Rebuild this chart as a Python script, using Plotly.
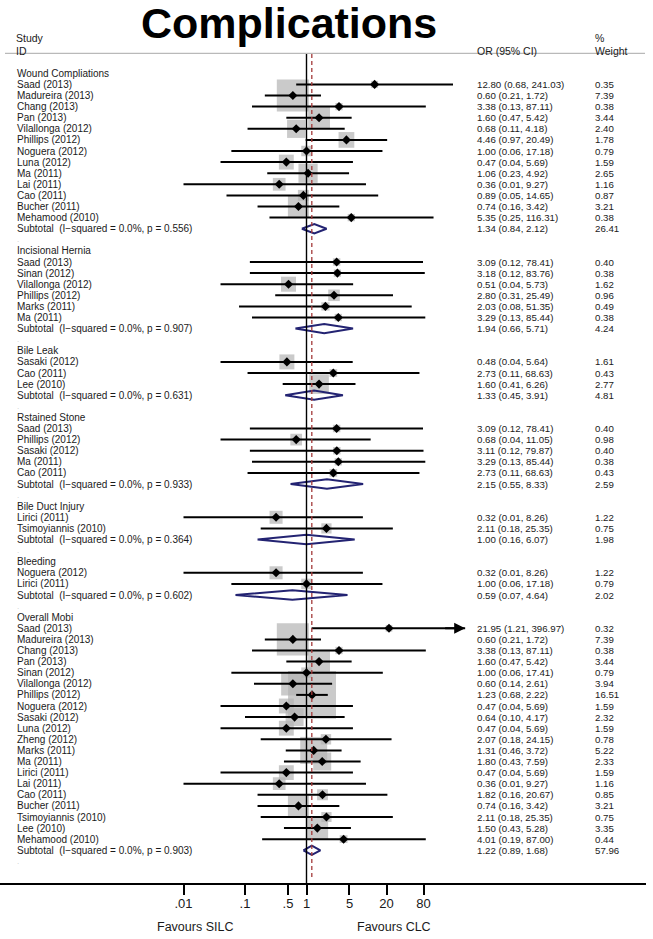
import math
import plotly.graph_objects as go

# ---------------- data ----------------
wound_study = ["Saad (2013)", "Madureira (2013)", "Chang (2013)", "Pan (2013)", "Vilallonga (2012)",
               "Phillips (2012)", "Noguera (2012)", "Luna (2012)", "Ma (2011)", "Lai (2011)",
               "Cao (2011)", "Bucher (2011)", "Mehamood (2010)"]
wound_or = [12.80, 0.60, 3.38, 1.60, 0.68, 4.46, 1.00, 0.47, 1.06, 0.36, 0.89, 0.74, 5.35]
wound_lo = [0.68, 0.21, 0.13, 0.47, 0.11, 0.97, 0.06, 0.04, 0.23, 0.01, 0.05, 0.16, 0.25]
wound_hi = [241.03, 1.72, 87.11, 5.42, 4.18, 20.49, 17.18, 5.69, 4.92, 9.27, 14.65, 3.42, 116.31]
wound_wt = [0.35, 7.39, 0.38, 3.44, 2.40, 1.78, 0.79, 1.59, 2.65, 1.16, 0.87, 3.21, 0.38]

hernia_study = ["Saad (2013)", "Sinan (2012)", "Vilallonga (2012)", "Phillips (2012)", "Marks (2011)", "Ma (2011)"]
hernia_or = [3.09, 3.18, 0.51, 2.80, 2.03, 3.29]
hernia_lo = [0.12, 0.12, 0.04, 0.31, 0.08, 0.13]
hernia_hi = [78.41, 83.76, 5.73, 25.49, 51.35, 85.44]
hernia_wt = [0.40, 0.38, 1.62, 0.96, 0.49, 0.38]

leak_study = ["Sasaki (2012)", "Cao (2011)", "Lee (2010)"]
leak_or = [0.48, 2.73, 1.60]
leak_lo = [0.04, 0.11, 0.41]
leak_hi = [5.64, 68.63, 6.26]
leak_wt = [1.61, 0.43, 2.77]

stone_study = ["Saad (2013)", "Phillips (2012)", "Sasaki (2012)", "Ma (2011)", "Cao (2011)"]
stone_or = [3.09, 0.68, 3.11, 3.29, 2.73]
stone_lo = [0.12, 0.04, 0.12, 0.13, 0.11]
stone_hi = [78.41, 11.05, 79.87, 85.44, 68.63]
stone_wt = [0.40, 0.98, 0.40, 0.38, 0.43]

duct_study = ["Lirici (2011)", "Tsimoyiannis (2010)"]
duct_or = [0.32, 2.11]
duct_lo = [0.01, 0.18]
duct_hi = [8.26, 25.35]
duct_wt = [1.22, 0.75]

bleed_study = ["Noguera (2012)", "Lirici (2011)"]
bleed_or = [0.32, 1.00]
bleed_lo = [0.01, 0.06]
bleed_hi = [8.26, 17.18]
bleed_wt = [1.22, 0.79]

overall_study = ["Saad (2013)", "Madureira (2013)", "Chang (2013)", "Pan (2013)", "Sinan (2012)",
                 "Vilallonga (2012)", "Phillips (2012)", "Noguera (2012)", "Sasaki (2012)", "Luna (2012)",
                 "Zheng (2012)", "Marks (2011)", "Ma (2011)", "Lirici (2011)", "Lai (2011)", "Cao (2011)",
                 "Bucher (2011)", "Tsimoyiannis (2010)", "Lee (2010)", "Mehamood (2010)"]
overall_or = [21.95, 0.60, 3.38, 1.60, 1.00, 0.60, 1.23, 0.47, 0.64, 0.47, 2.07, 1.31, 1.80, 0.47, 0.36,
              1.82, 0.74, 2.11, 1.50, 4.01]
overall_lo = [1.21, 0.21, 0.13, 0.47, 0.06, 0.14, 0.68, 0.04, 0.10, 0.04, 0.18, 0.46, 0.43, 0.04, 0.01,
              0.16, 0.16, 0.18, 0.43, 0.19]
overall_hi = [396.97, 1.72, 87.11, 5.42, 17.41, 2.61, 2.22, 5.69, 4.17, 5.69, 24.15, 3.72, 7.59, 5.69, 9.27,
              20.67, 3.42, 25.35, 5.28, 87.00]
overall_wt = [0.32, 7.39, 0.38, 3.44, 0.79, 3.94, 16.51, 1.59, 2.32, 1.59, 0.78, 5.22, 2.33, 1.59, 1.16,
              0.85, 3.21, 0.75, 3.35, 0.44]

group_names = ["Wound Compliations", "Incisional Hernia", "Bile Leak", "Rstained Stone",
               "Bile Duct Injury", "Bleeding", "Overall Mobi"]
subtotal_or = [1.34, 1.94, 1.33, 2.15, 1.00, 0.59, 1.22]
subtotal_lo = [0.84, 0.66, 0.45, 0.55, 0.16, 0.07, 0.89]
subtotal_hi = [2.12, 5.71, 3.91, 8.33, 6.07, 4.64, 1.68]
subtotal_wt = [26.41, 4.24, 4.81, 2.59, 1.98, 2.02, 57.96]
subtotal_i2 = [0.0, 0.0, 0.0, 0.0, 0.0, 0.0, 0.0]
subtotal_p = [0.556, 0.907, 0.631, 0.933, 0.364, 0.602, 0.903]

tick_vals = [0.01, 0.1, 0.5, 1, 5, 20, 80]
tick_text = [".01", ".1", ".5", "1", "5", "20", "80"]

# ---------------- layout geometry ----------------
W, H = 653, 939
ROW0_PX, ROW_PX = 73.3, 11.1
AXIS_PX = 883.3
X1_PX, DEC_PX = 306.5, 61.5
XRIGHT_PX = 646
CLIP_HI = 380.0
BOX_K = 11.8
FONT = "Liberation Sans, Arial, sans-serif"
TXT = "#1a1a1a"

def paper_x(px):
    return px / W

def paper_y(py):
    return 1 - py / H

def row_of_px(py):
    return (py - ROW0_PX) / ROW_PX

sections = [
    (wound_study, wound_or, wound_lo, wound_hi, wound_wt),
    (hernia_study, hernia_or, hernia_lo, hernia_hi, hernia_wt),
    (leak_study, leak_or, leak_lo, leak_hi, leak_wt),
    (stone_study, stone_or, stone_lo, stone_hi, stone_wt),
    (duct_study, duct_or, duct_lo, duct_hi, duct_wt),
    (bleed_study, bleed_or, bleed_lo, bleed_hi, bleed_wt),
    (overall_study, overall_or, overall_lo, overall_hi, overall_wt),
]

annotations = []
box_x, box_y, box_s = [], [], []
ci_x, ci_y = [], []
pt_x, pt_y = [], []
dia_x, dia_y = [], []
arrows = []

def add_text(x_px, row, text, size=10, color=TXT, anchor="left"):
    annotations.append(dict(x=paper_x(x_px), xref="paper", y=row, yref="y", text=text,
                            showarrow=False, xanchor=anchor, yanchor="middle",
                            font=dict(family=FONT, size=size, color=color)))

r = 0
for gi, (st, o, lo, hi, wt) in enumerate(sections):
    add_text(15, r, group_names[gi])
    r += 1
    for s, oo, l, h, w in zip(st, o, lo, hi, wt):
        add_text(15, r, s)
        add_text(475, r, f"{oo:.2f} ({l:.2f}, {h:.2f})", size=9.7)
        add_text(593, r, f"{w:.2f}", size=9.7)
        box_x.append(oo); box_y.append(r); box_s.append(BOX_K * math.sqrt(w))
        hh = min(h, CLIP_HI)
        ci_x += [l, hh, None]; ci_y += [r, r, None]
        pt_x.append(oo); pt_y.append(r)
        if h > CLIP_HI:
            arrows.append(r)
        r += 1
    add_text(15, r, f"Subtotal\u00a0 (I\u2212squared = {subtotal_i2[gi]:.1f}%, p = {subtotal_p[gi]:.3f})")
    add_text(475, r, f"{subtotal_or[gi]:.2f} ({subtotal_lo[gi]:.2f}, {subtotal_hi[gi]:.2f})", size=9.7)
    add_text(593, r, f"{subtotal_wt[gi]:.2f}", size=9.7)
    hd = 0.42
    dia_x += [subtotal_lo[gi], subtotal_or[gi], subtotal_hi[gi], subtotal_or[gi], subtotal_lo[gi], None]
    dia_y += [r, r - hd, r, r + hd, r, None]
    r += 1
    add_text(15, r, ".", size=8, color="#c8c8c8")
    r += 1

for ar in arrows:
    annotations.append(dict(x=math.log10(CLIP_HI), y=ar, xref="x", yref="y",
                            ax=math.log10(CLIP_HI) - 0.35, ay=ar, axref="x", ayref="y",
                            text="", showarrow=True, arrowhead=2, arrowsize=1.1,
                            arrowwidth=2, arrowcolor="black", standoff=0))

# headers and title
def add_px_text(x_px, y_px, text, size=10.5, anchor="left", bold=False, family=FONT):
    annotations.append(dict(x=paper_x(x_px), y=paper_y(y_px), xref="paper", yref="paper",
                            text=(f"<b>{text}</b>" if bold else text), showarrow=False,
                            xanchor=anchor, yanchor="middle",
                            font=dict(family=family, size=size, color=("black" if bold else TXT))))

add_px_text(14, 38, "Study")
add_px_text(14, 51, "ID")
add_px_text(475, 51, "OR (95% CI)")
add_px_text(593, 38, "%")
add_px_text(593, 51, "Weight")
add_px_text(289, 23, "Complications", size=43, anchor="center", bold=True)
add_px_text(195, 927, "Favours SILC", size=12.5, anchor="center")
add_px_text(394, 927, "Favours CLC", size=12.5, anchor="center")

fig = go.Figure()
fig.add_trace(go.Scatter(x=box_x, y=box_y, mode="markers",
                         marker=dict(symbol="square", size=box_s, color="#b4b4b4", line=dict(width=0)),
                         hoverinfo="skip"))
fig.add_trace(go.Scatter(x=ci_x, y=ci_y, mode="lines", line=dict(color="black", width=2),
                         hoverinfo="skip"))
fig.add_trace(go.Scatter(x=pt_x, y=pt_y, mode="markers",
                         marker=dict(symbol="diamond", size=7, color="black"), hoverinfo="skip"))
fig.add_trace(go.Scatter(x=dia_x, y=dia_y, mode="lines", line=dict(color="#232372", width=2),
                         hoverinfo="skip"))

row_bottom = row_of_px(AXIS_PX)
row_top = row_of_px(0)
line_top = row_of_px(54)

shapes = [
    dict(type="line", xref="paper", yref="paper", x0=paper_x(5), x1=paper_x(645),
         y0=paper_y(53.3), y1=paper_y(53.3), line=dict(color="#a8a8a8", width=1)),
    dict(type="line", xref="x", yref="y", x0=1, x1=1, y0=line_top, y1=row_bottom,
         line=dict(color="black", width=1.4), layer="above"),
    dict(type="line", xref="x", yref="y", x0=subtotal_or[-1], x1=subtotal_or[-1], y0=line_top,
         y1=row_bottom - 0.5, line=dict(color="#a33a3a", width=1.3, dash="4px,3px"), layer="above"),
]

fig.update_layout(
    width=W, height=H, margin=dict(l=0, r=0, t=0, b=0),
    paper_bgcolor="white", plot_bgcolor="white", showlegend=False,
    annotations=annotations, shapes=shapes,
    xaxis=dict(type="log", domain=[0, XRIGHT_PX / W],
               range=[-X1_PX / DEC_PX, (XRIGHT_PX - X1_PX) / DEC_PX],
               showgrid=False, zeroline=False, showline=True, linecolor="black", linewidth=1.5,
               ticks="outside", ticklen=10, tickwidth=1.5, tickcolor="black",
               tickvals=tick_vals, ticktext=tick_text, ticklabelstandoff=-3,
               tickfont=dict(family=FONT, size=13, color=TXT)),
    yaxis=dict(domain=[1 - AXIS_PX / H, 1], range=[row_bottom, row_top], visible=False,
               showgrid=False, zeroline=False),
)

fig.write_html("out.html", config={"displayModeBar": False},
               post_script="document.body.style.margin='0';document.body.style.overflow='hidden';")
